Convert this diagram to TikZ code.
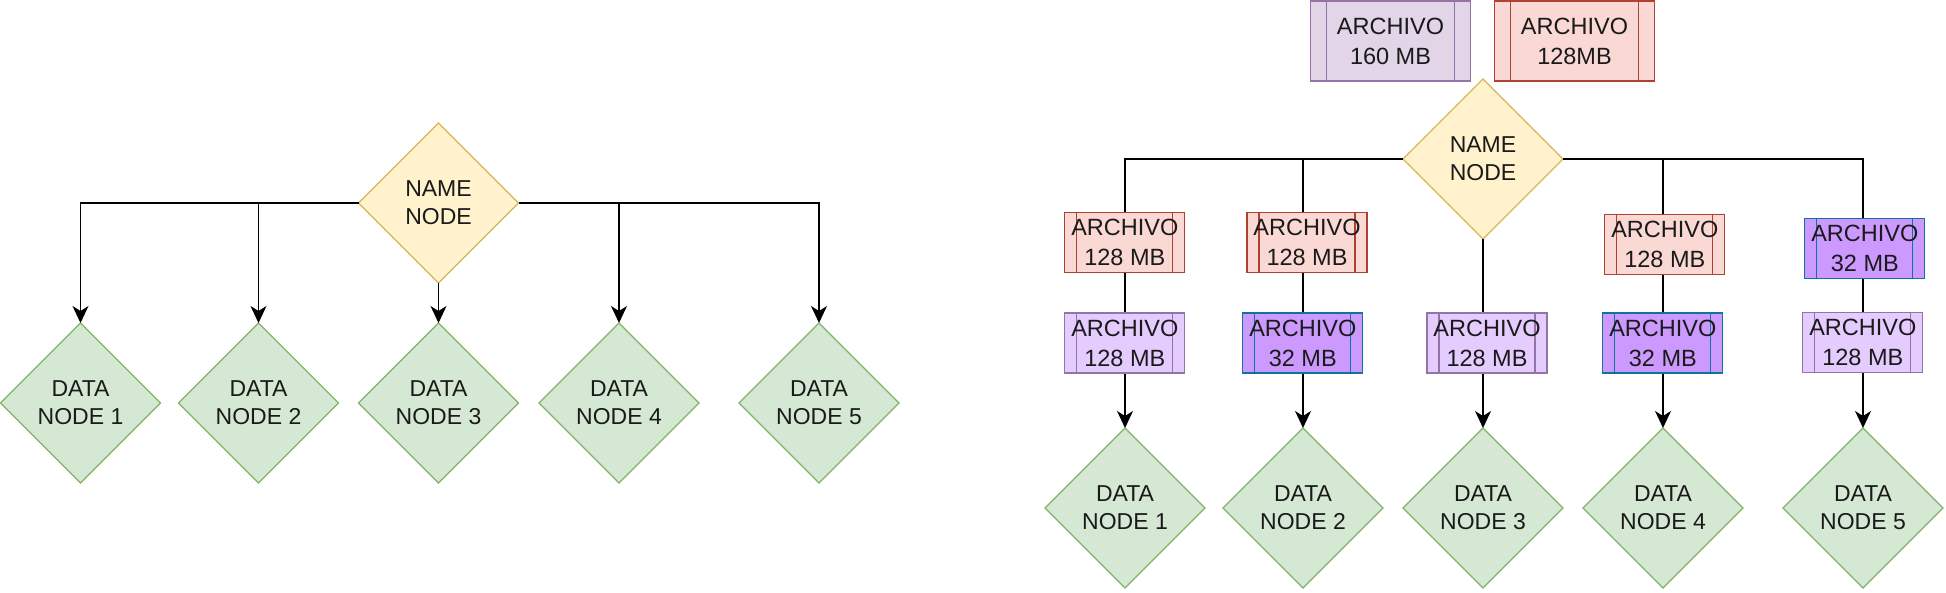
\documentclass[tikz,border=0pt]{standalone}
\usepackage{fontspec}
\setmainfont{Liberation Sans}
\usetikzlibrary{shapes.geometric,arrows.meta}
\definecolor{yfill}{HTML}{FFF2CC}
\definecolor{ydraw}{HTML}{D6B656}
\definecolor{gfill}{HTML}{D5E8D4}
\definecolor{gdraw}{HTML}{82B366}
\definecolor{rfill}{HTML}{FAD9D5}
\definecolor{rdraw}{HTML}{AE4132}
\definecolor{pfill}{HTML}{E1D5E7}
\definecolor{pdraw}{HTML}{9673A6}
\definecolor{lpfill}{HTML}{E5CCFF}
\definecolor{bfill}{HTML}{CC99FF}
\definecolor{bdraw}{HTML}{10739E}
\definecolor{txt}{HTML}{1A1A1A}
\begin{document}
\begin{tikzpicture}[x=1pt,y=-1pt,
  every node/.style={inner sep=0pt, outer sep=0pt, align=center, text=txt},
  dia/.style={diamond, aspect=1, minimum width=160pt, minimum height=160pt, line width=1.3pt, font=\fontsize{23}{27.7}\selectfont},
  namenode/.style={dia, fill=yfill, draw=ydraw},
  datanode/.style={dia, fill=gfill, draw=gdraw},
  innerlines/.style 2 args={path picture={\draw[#1, line width=1.3pt]
      ([xshift=#2]path picture bounding box.north west) -- ([xshift=#2]path picture bounding box.south west)
      ([xshift=-#2]path picture bounding box.north east) -- ([xshift=-#2]path picture bounding box.south east);}},
  filebox/.style={rectangle, minimum width=120pt, minimum height=60pt, line width=1.3pt, font=\fontsize{23.5}{30}\selectfont},
  redbox/.style={filebox, fill=rfill, draw=rdraw, innerlines={rdraw}{12pt}},
  lpbox/.style={filebox, fill=lpfill, draw=pdraw, innerlines={pdraw}{12pt}},
  bluebox/.style={filebox, fill=bfill, draw=bdraw, innerlines={bdraw}{12pt}},
  bigbox/.style={filebox, minimum width=160pt, minimum height=80pt, innerlines={#1}{16pt}},
  conn/.style={draw=black, line width=1.3pt, -{Stealth[length=17pt,width=16pt,inset=5pt]}},
  plain/.style={draw=black, line width=1.3pt}
]
\useasboundingbox (0,0) rectangle (1946,592);

% ---------- left diagram ----------
\node[namenode] (ln) at (438.5,203) {NAME\\NODE};
\node[datanode] (l1) at (80.5,403) {DATA\\NODE 1};
\node[datanode] (l2) at (258.5,403) {DATA\\NODE 2};
\node[datanode] (l3) at (438.5,403) {DATA\\NODE 3};
\node[datanode] (l4) at (619,403) {DATA\\NODE 4};
\node[datanode] (l5) at (819,403) {DATA\\NODE 5};
\draw[conn] (ln.west) -| (l1.north);
\draw[conn] (ln.west) -| (l2.north);
\draw[conn] (ln.south) -- (l3.north);
\draw[conn] (ln.east) -| (l4.north);
\draw[conn] (ln.east) -| (l5.north);

% ---------- right diagram ----------
\node[namenode] (rn) at (1483,159) {NAME\\NODE};
\node[datanode] (r1) at (1125,508) {DATA\\NODE 1};
\node[datanode] (r2) at (1303,508) {DATA\\NODE 2};
\node[datanode] (r3) at (1483,508) {DATA\\NODE 3};
\node[datanode] (r4) at (1663,508) {DATA\\NODE 4};
\node[datanode] (r5) at (1863,508) {DATA\\NODE 5};
\draw[conn] (rn.west) -| (r1.north);
\draw[conn] (rn.west) -| (r2.north);
\draw[conn] (rn.south) -- (r3.north);
\draw[conn] (rn.east) -| (r4.north);
\draw[conn] (rn.east) -| (r5.north);

\node[bigbox={pdraw}, fill=pfill, draw=pdraw] (f160) at (1390.5,41) {ARCHIVO\\160 MB};
\node[bigbox={rdraw}, fill=rfill, draw=rdraw] (f128) at (1574.5,41) {ARCHIVO\\128MB};

\node[redbox] (a1) at (1124.8,242.7) {ARCHIVO\\128 MB};
\node[lpbox] (b1) at (1124.8,343) {ARCHIVO\\128 MB};
\node[redbox] (a2) at (1307,242.7) {ARCHIVO\\128 MB};
\node[bluebox] (b2) at (1302.8,343) {ARCHIVO\\32 MB};
\node[lpbox] (b3) at (1487,343) {ARCHIVO\\128 MB};
\node[redbox] (a4) at (1664.8,244.7) {ARCHIVO\\128 MB};
\node[bluebox] (b4) at (1662.8,343) {ARCHIVO\\32 MB};
\node[bluebox] (a5) at (1864.8,248.7) {ARCHIVO\\32 MB};
\node[lpbox] (b5) at (1862.8,342.5) {ARCHIVO\\128 MB};
\end{tikzpicture}
\end{document}
